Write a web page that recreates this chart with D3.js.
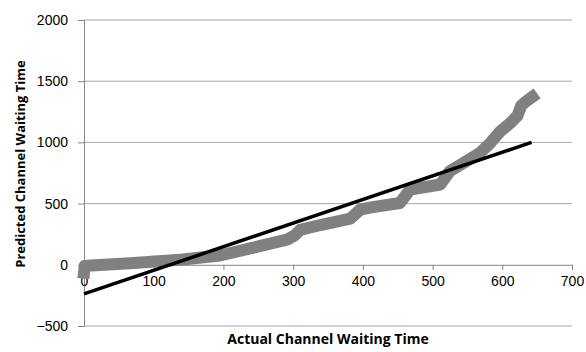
<!DOCTYPE html>
<html>
<head>
<meta charset="utf-8">
<script src="https://cdn.jsdelivr.net/npm/d3@7"></script>
<style>
  html, body { margin: 0; padding: 0; background: #fff; }
  svg { display: block; }
  .tick text { font-family: "Liberation Sans", Arial, sans-serif; font-size: 14px; fill: #000; }
  .axis-title { font-family: "Open Sans", "Liberation Sans", sans-serif; font-weight: bold; fill: #000; }
</style>
</head>
<body>
<svg id="chart" width="586" height="352"></svg>
<script>
// Predicted vs actual channel waiting time (sorted observations)
const actualTime = [0, 1, 10, 66, 138, 195, 243, 291, 302, 310, 339, 382, 396, 410, 453, 468, 511, 525, 554, 568, 582, 597, 611, 622, 627, 633, 643];
const predictedTime = [-65, -10, -5, 12, 42, 76, 140, 205, 240, 285, 325, 377, 450, 467, 505, 615, 656, 766, 865, 915, 990, 1090, 1155, 1220, 1300, 1330, 1372];

// Fitted linear trend endpoints
const trendX = [0, 642];
const trendY = [-238, 1000];

const xTicks = [0, 100, 200, 300, 400, 500, 600, 700];
const yTicks = [-500, 0, 500, 1000, 1500, 2000];

const svg = d3.select("#chart");
const plotLeft = 84, plotRight = 572, plotTop = 20, plotBottom = 326;

const x = d3.scaleLinear().domain([0, 700]).range([plotLeft, plotRight]);
const y = d3.scaleLinear().domain([-500, 2000]).range([plotBottom, plotTop]);

// horizontal gridlines
svg.append("g")
  .selectAll("line")
  .data(yTicks.filter(d => d !== 0))
  .join("line")
  .attr("x1", plotLeft).attr("x2", plotRight)
  .attr("y1", d => y(d)).attr("y2", d => y(d))
  .attr("stroke", "#a6a6a6").attr("stroke-width", 1);

// y axis
const yAxis = svg.append("g")
  .attr("transform", `translate(${plotLeft},0)`)
  .call(d3.axisLeft(y).tickValues(yTicks).tickSize(6).tickPadding(10).tickFormat(d3.format("d")));
yAxis.select(".domain").attr("stroke", "#868686");
yAxis.selectAll(".tick line").attr("stroke", "#868686");

// x axis along zero
const xAxis = svg.append("g")
  .attr("transform", `translate(0,${y(0)})`)
  .call(d3.axisBottom(x).tickValues(xTicks).tickSize(5).tickPadding(6).tickFormat(d3.format("d")));
xAxis.select(".domain").attr("stroke", "#868686");
xAxis.selectAll(".tick line").attr("stroke", "#868686");

// observed series: thick band of markers
const line = d3.line().x(d => x(d[0])).y(d => y(d[1]));
svg.append("path")
  .datum(actualTime.map((a, i) => [a, predictedTime[i]]))
  .attr("d", line)
  .attr("fill", "none")
  .attr("stroke", "#808080")
  .attr("stroke-width", 12)
  .attr("stroke-linejoin", "round")
  .attr("stroke-linecap", "square");

// trend line
svg.append("path")
  .datum(trendX.map((a, i) => [a, trendY[i]]))
  .attr("d", line)
  .attr("fill", "none")
  .attr("stroke", "#000")
  .attr("stroke-width", 3.5);

// axis titles
svg.append("text")
  .attr("class", "axis-title")
  .attr("x", (plotLeft + plotRight) / 2)
  .attr("y", 344)
  .attr("text-anchor", "middle")
  .style("font-size", "14px")
  .text("Actual Channel Waiting Time");

svg.append("text")
  .attr("class", "axis-title")
  .attr("transform", "translate(25,164) rotate(-90)")
  .attr("text-anchor", "middle")
  .style("font-size", "13px")
  .text("Predicted Channel Waiting Time");
</script>
</body>
</html>
